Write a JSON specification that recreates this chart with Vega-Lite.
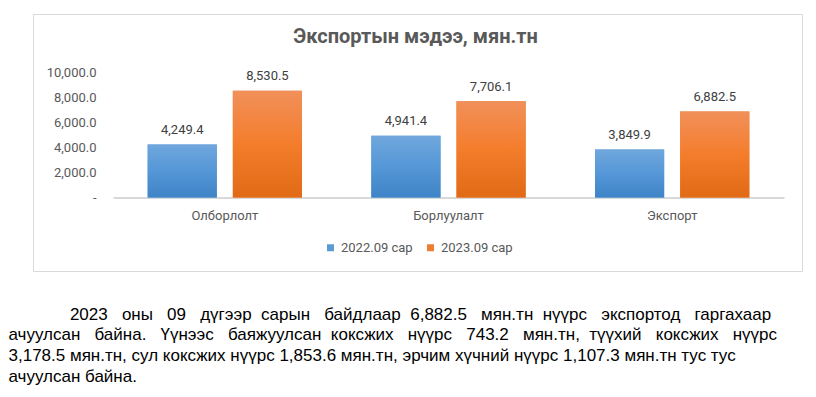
{
  "$schema": "https://vega.github.io/schema/vega-lite/v6.json",
  "padding": {"left": 8, "top": 13, "right": 0, "bottom": 0},
  "background": "white",
  "title": {
    "text": [
      "\u200b\u00a0\u00a0\u00a0\u00a0\u00a0\u00a0\u00a0\u00a0\u00a0\u00a0\u00a0\u00a0\u00a02023\u00a0\u00a0\u00a0оны\u00a0\u00a0\u00a009\u00a0\u00a0\u00a0дүгээр\u00a0\u00a0сарын\u00a0\u00a0\u00a0байдлаар\u00a0\u00a06,882.5\u00a0\u00a0\u00a0мян.тн\u00a0\u00a0нүүрс\u00a0\u00a0\u00a0экспортод\u00a0\u00a0\u00a0гаргахаар",
      "ачуулсан\u00a0\u00a0\u00a0байна.\u00a0\u00a0\u00a0Үүнээс\u00a0\u00a0\u00a0баяжуулсан\u00a0\u00a0коксжих\u00a0\u00a0\u00a0нүүрс\u00a0\u00a0\u00a0743.2\u00a0\u00a0\u00a0мян.тн,\u00a0\u00a0түүхий\u00a0\u00a0\u00a0коксжих\u00a0\u00a0\u00a0нүүрс",
      "3,178.5 мян.тн, сул коксжих нүүрс 1,853.6 мян.тн, эрчим хүчний нүүрс 1,107.3 мян.тн тус тус",
      "ачуулсан байна."
    ],
    "orient": "bottom",
    "anchor": "start",
    "font": "Liberation Sans",
    "fontSize": 17,
    "fontWeight": "normal",
    "color": "#000000",
    "lineHeight": 20.8,
    "baseline": "alphabetic",
    "offset": 48,
    "dx": -24
  },
  "vconcat": [
    {
      "width": 769,
      "height": 257,
      "title": {
        "text": "Экспортын мэдээ, мян.тн",
        "anchor": "middle",
        "frame": "group",
        "offset": -49,
        "baseline": "alphabetic",
        "font": "Roboto",
        "fontSize": 20,
        "fontWeight": "bold",
        "color": "#595959",
        "dx": -2
      },
      "data": {
        "values": [
          {"cat": "Олборлолт", "series": "2022.09 сар", "value": 4249.4},
          {"cat": "Олборлолт", "series": "2023.09 сар", "value": 8530.5},
          {"cat": "Борлуулалт", "series": "2022.09 сар", "value": 4941.4},
          {"cat": "Борлуулалт", "series": "2023.09 сар", "value": 7706.1},
          {"cat": "Экспорт", "series": "2022.09 сар", "value": 3849.9},
          {"cat": "Экспорт", "series": "2023.09 сар", "value": 6882.5}
        ]
      },
      "encoding": {
        "x": {
          "field": "cat",
          "type": "nominal",
          "sort": null,
          "scale": {"range": [80, 751], "paddingInner": 0.31, "paddingOuter": 0.155},
          "axis": {
            "orient": "bottom",
            "offset": -73.5,
            "title": null,
            "domain": true,
            "domainColor": "#d9d9d9",
            "domainWidth": 2,
            "ticks": false,
            "tickSize": 0,
            "labelPadding": 12,
            "labelAngle": 0,
            "labelFont": "Roboto",
            "labelFontSize": 13,
            "labelColor": "#595959"
          }
        },
        "xOffset": {
          "field": "series",
          "type": "nominal",
          "sort": null,
          "scale": {"paddingInner": 0.188, "paddingOuter": 0}
        },
        "y": {
          "field": "value",
          "type": "quantitative",
          "scale": {"domain": [0, 10000], "range": [183.5, 58.5], "nice": false, "zero": true},
          "axis": {
            "orient": "left",
            "offset": -80,
            "title": null,
            "domain": false,
            "ticks": false,
            "tickSize": 0,
            "grid": false,
            "labelPadding": 17,
            "values": [0, 2000, 4000, 6000, 8000, 10000],
            "labelExpr": "datum.value === 0 ? '-\u00a0\u00a0' : format(datum.value, ',.1f')",
            "labelFont": "Roboto",
            "labelFontSize": 13,
            "labelColor": "#595959"
          }
        }
      },
      "layer": [
        {
          "mark": {"type": "bar"},
          "encoding": {
            "color": {
              "field": "series",
              "type": "nominal",
              "scale": {"domain": ["2022.09 сар", "2023.09 сар"], "range": ["#5b9bd5", "#ed7d31"]},
              "legend": {
                "orient": "none",
                "legendX": 291,
                "legendY": 227,
                "direction": "horizontal",
                "title": null,
                "symbolType": "square",
                "symbolSize": 49,
                "symbolStrokeWidth": 0,
                "labelFont": "Roboto",
                "labelFontSize": 13,
                "labelColor": "#595959",
                "columnPadding": 11,
                "labelOffset": 4,
                "padding": 0
              }
            }
          }
        },
        {
          "mark": {"type": "bar"},
          "encoding": {
            "fill": {
              "condition": {
                "test": "datum.series === '2022.09 сар'",
                "value": {
                  "gradient": "linear", "x1": 0, "y1": 0, "x2": 0, "y2": 1,
                  "stops": [
                    {"offset": 0, "color": "#70a7dd"},
                    {"offset": 0.5, "color": "#5597d7"},
                    {"offset": 1, "color": "#3e84c6"}
                  ]
                }
              },
              "value": {
                "gradient": "linear", "x1": 0, "y1": 0, "x2": 0, "y2": 1,
                "stops": [
                  {"offset": 0, "color": "#f1905a"},
                  {"offset": 0.5, "color": "#f47d2c"},
                  {"offset": 1, "color": "#e16a16"}
                ]
              }
            }
          }
        },
        {
          "mark": {
            "type": "text",
            "baseline": "alphabetic",
            "dy": -10.5,
            "font": "Roboto",
            "fontSize": 13,
            "color": "#404040"
          },
          "encoding": {
            "text": {"field": "value", "type": "quantitative", "format": ",.1f"}
          }
        }
      ]
    }
  ],
  "config": {
    "view": {"stroke": "#d9d9d9", "strokeWidth": 1},
    "concat": {"spacing": 0}
  }
}
